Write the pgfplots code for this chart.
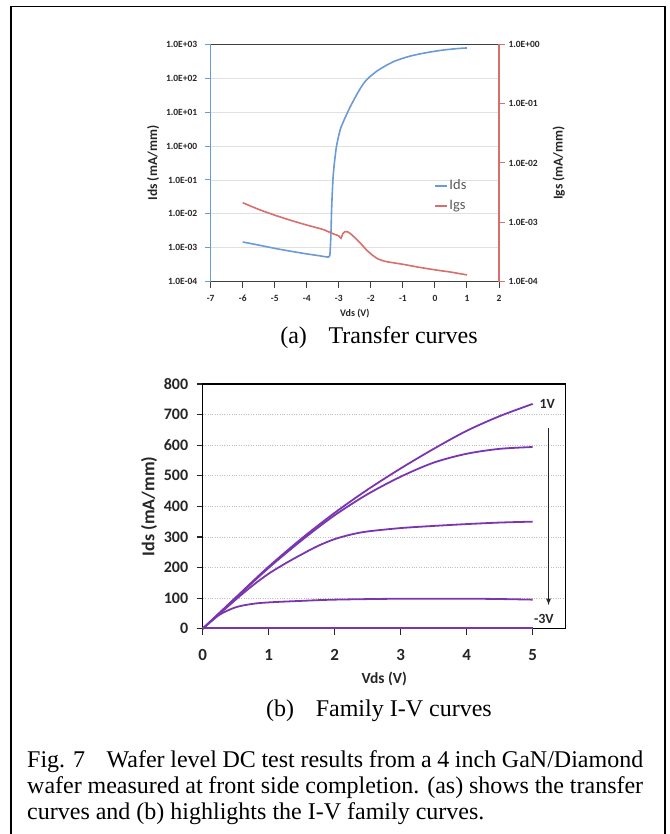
\documentclass[border=0pt]{standalone}
\usepackage{fontspec}
\setmainfont{Liberation Serif}
\newfontfamily\calfont{Carlito}
\usepackage{pgfplots}
\pgfplotsset{compat=1.18}
\definecolor{idsblue}{HTML}{6B9BD6}
\definecolor{igsred}{HTML}{D86F6D}
\definecolor{ivpurple}{HTML}{7A35B0}
\definecolor{axgray}{HTML}{404040}
\begin{document}
\begin{tikzpicture}
\useasboundingbox (0pt,0pt) rectangle (669pt,834pt);
\draw[line width=1.6pt] (11pt,-20pt) rectangle (665pt,827.5pt);
% ---------- top chart, left axis (Ids)
\begin{axis}[
  at={(210.7pt,552.3pt)}, anchor=south west, scale only axis,
  width=288.3pt, height=237.4pt,
  xmin=-7, xmax=2, ymode=log, ymin=1e-4, ymax=1e3,
  axis x line*=bottom, axis y line*=left,
  separate axis lines,
  x axis line style={axgray, line width=1.3pt, -},
  y axis line style={idsblue, line width=1.5pt, -},
  xtick={-7,-6,-5,-4,-3,-2,-1,0,1,2},
  xticklabels={-7,-6,-5,-4,-3,-2,-1,0,1,2},
  ytick={1e-4,1e-3,1e-2,1e-1,1,1e1,1e2,1e3},
  yticklabels={1.0E-04,1.0E-03,1.0E-02,1.0E-01,1.0E+00,1.0E+01,1.0E+02,1.0E+03},
  yminorticks=false, xminorticks=false,
  tick align=outside, major tick length=6pt,
  x tick style={axgray, line width=1pt},
  y tick style={idsblue, line width=1pt},
  ymajorgrids, grid style={black!12, line width=0.8pt},
  tick label style={font=\calfont\bfseries\fontsize{9.5}{11}\selectfont, text=black!85},
  x tick label style={yshift=-4pt},
  y tick label style={xshift=-4pt},
  xlabel={Vds (V)}, ylabel={Ids (mA/mm)},
  xlabel style={font=\calfont\bfseries\fontsize{10}{12}\selectfont, text=black!85,
    at={(axis description cs:0.5,0)}, anchor=center, yshift=-32.3pt},
  ylabel style={font=\calfont\bfseries\fontsize{13.5}{15}\selectfont, text=black!85},
]
\addplot[idsblue, line width=1.6pt, smooth, tension=0.3] coordinates {
(-6,1.48e-3) (-5.5,1.2e-3) (-5,9.6e-4) (-4.5,7.9e-4) (-4,6.6e-4) (-3.6,5.8e-4)
(-3.4,5.4e-4) (-3.32,5.3e-4) (-3.28,6.0e-4) (-3.25,2e-3) (-3.23,1e-2) (-3.21,3.2e-2)
(-3.18,0.12) (-3.14,0.31) (-3.08,0.9) (-3.01,1.9) (-2.95,3.2) (-2.88,4.7) (-2.78,7.7)
(-2.65,14) (-2.5,26) (-2.34,48) (-2.2,76) (-2.03,111) (-1.8,165) (-1.5,245) (-1.25,320)
(-0.99,390) (-0.75,455) (-0.47,520) (-0.2,580) (0.05,635) (0.3,685) (0.58,730) (0.8,760) (1.0,780)
};
\end{axis}
% ---------- top chart, right axis (Igs)
\begin{axis}[
  at={(210.7pt,552.3pt)}, anchor=south west, scale only axis,
  width=288.3pt, height=237.4pt,
  xmin=-7, xmax=2, ymode=log, ymin=1e-4, ymax=1,
  axis x line*=top, axis y line*=right,
  separate axis lines,
  x axis line style={axgray, line width=1.3pt, -},
  y axis line style={igsred, line width=1.5pt, -},
  xtick=\empty,
  ytick={1e-4,1e-3,1e-2,1e-1,1},
  yticklabels={1.0E-04,1.0E-03,1.0E-02,1.0E-01,1.0E+00},
  yminorticks=false,
  tick align=outside, major tick length=6pt,
  y tick style={igsred, line width=1pt},
  tick label style={font=\calfont\bfseries\fontsize{9.5}{11}\selectfont, text=black!85},
  ylabel={Igs (mA/mm)}, ylabel shift=6pt,
  ylabel style={font=\calfont\bfseries\fontsize{13.5}{15}\selectfont, text=black!85},
  legend style={draw=none, fill=none, at={(0.7745,0.436)}, anchor=north west,
    font=\calfont\fontsize{14.5}{16}\selectfont, text=black!65, row sep=6pt,
    inner sep=0pt, nodes={inner sep=1.5pt}},
  legend cell align=left,
  legend image code/.code={\draw[#1, line width=1.8pt] (0pt,0pt) -- (12pt,0pt);},
]
\addlegendimage{draw=idsblue, color=idsblue}
\addlegendentry{Ids}
\addplot[igsred, line width=1.6pt, smooth, tension=0.3] coordinates {
(-6,2.14e-3) (-5.5,1.65e-3) (-5,1.32e-3) (-4.5,1.08e-3) (-4,9.0e-4) (-3.5,7.6e-4)
(-3.2,6.5e-4) (-3.0,5.9e-4) (-2.93,5.4e-4) (-2.88,6.4e-4) (-2.8,7.0e-4) (-2.72,6.9e-4)
(-2.6,6.2e-4) (-2.45,5.2e-4) (-2.3,4.3e-4) (-2.13,3.4e-4) (-1.95,2.8e-4) (-1.8,2.45e-4)
(-1.65,2.28e-4) (-1.5,2.17e-4) (-0.99,1.96e-4) (-0.47,1.74e-4) (0.05,1.57e-4) (0.5,1.45e-4) (1.0,1.30e-4)
};
\addlegendentry{Igs}
\end{axis}
\node[anchor=base, font=\fontsize{24}{26}\selectfont] at (379pt,490pt) {(a)\hspace{0.9em}Transfer curves};
% ---------- bottom chart
\begin{axis}[
  at={(202.7pt,205.3pt)}, anchor=south west, scale only axis,
  width=363pt, height=244.7pt,
  xmin=0, xmax=5.5, ymin=0, ymax=800,
  xtick={0,1,2,3,4,5}, ytick={0,100,200,300,400,500,600,700,800},
  /pgf/number format/assume math mode=true,
  xtick pos=left, ytick pos=left,
  axis line style={black, line width=1.4pt},
  tick align=outside, major tick length=6pt,
  tick style={black!85, line width=1.2pt},
  ymajorgrids, grid style={black!25, dotted, line width=0.8pt},
  x tick label style={font=\calfont\bfseries\fontsize{17}{19}\selectfont, text=black!85, yshift=-11pt},
  y tick label style={font=\calfont\bfseries\fontsize{16}{18}\selectfont, text=black!85, xshift=-5pt},
  xlabel={Vds (V)}, ylabel={Ids (mA/mm)},
  xlabel style={font=\calfont\bfseries\fontsize{15.5}{17}\selectfont, text=black!85,
    at={(axis description cs:0.5,0)}, anchor=center, yshift=-50.5pt},
  ylabel style={font=\calfont\bfseries\fontsize{18}{20}\selectfont, text=black!85},
  clip=false,
]
\addplot[ivpurple, line width=1.8pt, smooth] coordinates {
(0,0) (0.5,102) (1,203) (1.5,295) (2,379) (2.5,455) (3,524) (3.5,588) (4,647) (4.5,695) (5,735)};
\addplot[ivpurple, line width=1.8pt, smooth] coordinates {
(0,0) (0.5,100) (1,199) (1.5,289) (2,371) (2.5,440) (3,497) (3.5,543) (4,572) (4.5,588) (5,594)};
\addplot[ivpurple, line width=1.8pt, smooth] coordinates {
(0,0) (0.5,95) (0.75,140) (1,180) (1.25,213) (1.5,243) (1.75,271) (2,293) (2.25,308) (2.5,318)
(3,329) (3.5,336) (4,342) (4.5,347) (5,350)};
\addplot[ivpurple, line width=1.8pt, smooth] coordinates {
(0,0) (0.25,45) (0.5,70) (0.75,81) (1,86) (1.5,91) (2,95) (3,98) (4,98) (4.5,97) (5,95)};
\addplot[ivpurple, line width=1.8pt] coordinates {(0,2) (5,2)};
\node[font=\calfont\bfseries\fontsize{14}{16}\selectfont, text=black!85] at (axis cs:5.22,735) {1V};
\node[font=\calfont\bfseries\fontsize{14}{16}\selectfont, text=black!85] at (axis cs:5.17,32) {-3V};
\draw[-latex, line width=1.2pt, black!85] (axis cs:5.24,656) -- (axis cs:5.24,77);
\end{axis}
\node[anchor=base, font=\fontsize{24}{26}\selectfont] at (379pt,117pt) {(b)\hspace{0.9em}Family I-V curves};
% ---------- caption
\node[anchor=north west, inner sep=0pt, text width=616pt, align=justify,
  font=\fontsize{24}{26}\selectfont] at (27pt,84pt)
{Fig. 7\hspace{0.9em}Wafer level DC test results from a 4 inch GaN/Diamond\linebreak
wafer measured at front side completion. (as) shows the transfer\linebreak
curves and (b) highlights the I-V family curves.};
\end{tikzpicture}
\end{document}
